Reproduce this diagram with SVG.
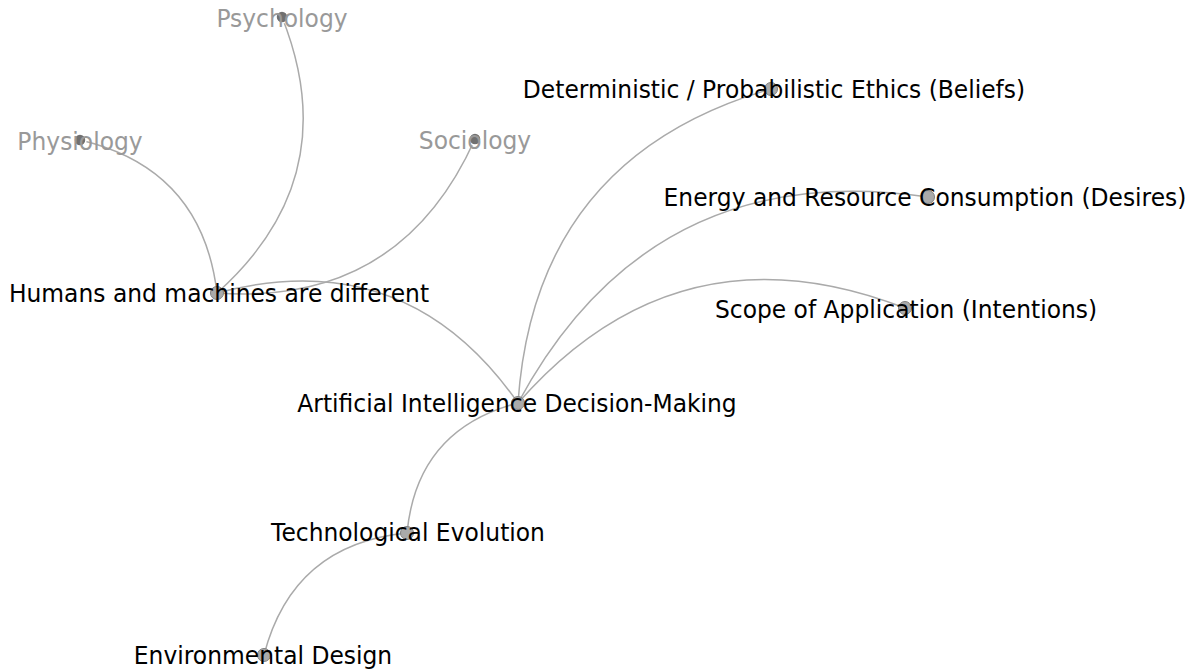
<svg xmlns="http://www.w3.org/2000/svg" width="1192" height="670" viewBox="0 0 1192 670">
<style>
.edge{fill:none;stroke:#aaaaaa;stroke-width:1.5}
.node{fill:#aaaaaa;stroke:#808080;stroke-width:1}
.node.dim{fill:#707070;stroke:#ffffff;stroke-width:1.5}
.lbl{font-family:"DejaVu Sans",sans-serif;font-size:23.4px;fill:#000000;text-anchor:middle;dominant-baseline:central}
.lbl.dim{fill:#999999}
</style>
<rect width="1192" height="670" fill="#ffffff"/>
<g id="connectors">
<path class="edge" d="M80,140 Q202,168.5 217,293"/>
<path class="edge" d="M282,17 Q346,177.7 217,293"/>
<path class="edge" d="M475,139 Q400,306.3 217,293"/>
<path class="edge" d="M217,293 Q406,242.6 518,403"/>
<path class="edge" d="M518,403 Q534.6,157.4 771,89"/>
<path class="edge" d="M518,403 Q650.9,156.5 928,197"/>
<path class="edge" d="M518,403 Q678.2,220 905,308"/>
<path class="edge" d="M407,533 Q417,429.2 518,403"/>
<path class="edge" d="M264,655 Q292.8,544 407,533"/>
</g>
<g id="node-psychology"><circle class="node dim" cx="282" cy="17" r="6"/><text class="lbl dim" transform="translate(282,18) scale(1,1.08)">Psychology</text></g>
<g id="node-physiology"><circle class="node dim" cx="80" cy="140" r="6"/><text class="lbl dim" transform="translate(80,141) scale(1,1.08)">Physiology</text></g>
<g id="node-sociology"><circle class="node dim" cx="475" cy="139" r="6"/><text class="lbl dim" transform="translate(475,140) scale(1,1.08)">Sociology</text></g>
<g id="node-humans"><circle class="node" cx="217" cy="293" r="6.5"/><text class="lbl" transform="translate(219,293) scale(1,1.08)">Humans and machines are different</text></g>
<g id="node-deterministic"><circle class="node" cx="771" cy="89" r="6.5"/><text class="lbl" transform="translate(774,89) scale(1,1.08)">Deterministic / Probabilistic Ethics (Beliefs)</text></g>
<g id="node-energy"><circle class="node" cx="928" cy="197" r="6.5"/><text class="lbl" transform="translate(925,197) scale(1,1.08)">Energy and Resource Consumption (Desires)</text></g>
<g id="node-scope"><circle class="node" cx="905" cy="308" r="6.5"/><text class="lbl" transform="translate(906,309) scale(1,1.08)">Scope of Application (Intentions)</text></g>
<g id="node-ai"><circle class="node" cx="518" cy="403" r="6.5"/><text class="lbl" transform="translate(517,403) scale(1,1.08)">Artificial Intelligence Decision-Making</text></g>
<g id="node-tech"><circle class="node" cx="407" cy="533" r="6.5"/><text class="lbl" transform="translate(408,532) scale(1,1.08)">Technological Evolution</text></g>
<g id="node-env"><circle class="node" cx="264" cy="655" r="6.5"/><text class="lbl" transform="translate(263,655) scale(1,1.08)">Environmental Design</text></g>
</svg>
